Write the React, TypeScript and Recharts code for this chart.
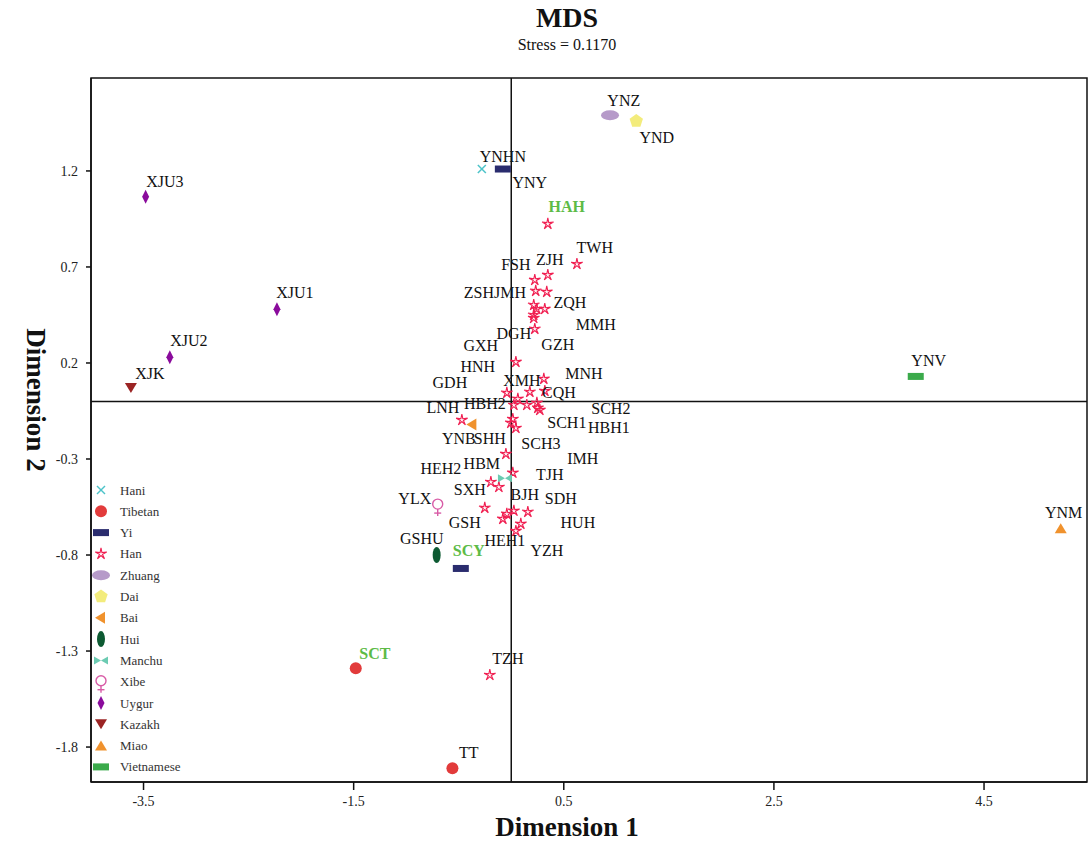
import React from 'react';
import {
  ScatterChart,
  Scatter,
  XAxis,
  YAxis,
  ReferenceLine,
  ReferenceArea,
} from 'recharts';

// values (dimension 1, dimension 2)
const hani = [{ x: -0.28, y: 1.21 }];
const tibetan = [{ x: -1.48, y: -1.39 }, { x: -0.56, y: -1.91 }];
const yi = [{ x: -0.08, y: 1.21 }, { x: -0.48, y: -0.87 }];
const han = [
  { x: 0.348, y: 0.924 }, { x: 0.625, y: 0.715 }, { x: 0.348, y: 0.658 },
  { x: 0.224, y: 0.632 }, { x: 0.233, y: 0.575 }, { x: 0.338, y: 0.57 },
  { x: 0.214, y: 0.502 }, { x: 0.243, y: 0.481 }, { x: 0.319, y: 0.481 },
  { x: 0.214, y: 0.45 }, { x: 0.214, y: 0.434 }, { x: 0.224, y: 0.377 },
  { x: 0.044, y: 0.205 }, { x: 0.31, y: 0.117 }, { x: 0.32, y: 0.054 },
  { x: -0.042, y: 0.044 }, { x: 0.177, y: 0.049 }, { x: 0.063, y: 0.013 },
  { x: 0.025, y: -0.019 }, { x: 0.148, y: -0.019 }, { x: 0.244, y: -0.008 },
  { x: 0.253, y: -0.034 }, { x: 0.272, y: -0.045 }, { x: -0.47, y: -0.097 },
  { x: 0.015, y: -0.092 }, { x: -0.004, y: -0.112 }, { x: 0.044, y: -0.139 },
  { x: -0.051, y: -0.274 }, { x: 0.015, y: -0.372 }, { x: -0.194, y: -0.42 },
  { x: -0.118, y: -0.446 }, { x: -0.252, y: -0.555 }, { x: 0.025, y: -0.57 },
  { x: -0.042, y: -0.586 }, { x: 0.158, y: -0.576 }, { x: -0.08, y: -0.612 },
  { x: 0.091, y: -0.638 }, { x: 0.044, y: -0.675 }, { x: -0.204, y: -1.425 },
];
const zhuang = [{ x: 0.94, y: 1.49 }];
const dai = [{ x: 1.19, y: 1.46 }];
const bai = [{ x: -0.37, y: -0.12 }];
const hui = [{ x: -0.71, y: -0.8 }];
const manchu = [{ x: -0.06, y: -0.4 }];
const xibe = [{ x: -0.7, y: -0.54 }];
const uygur = [{ x: -3.48, y: 1.065 }, { x: -2.23, y: 0.48 }, { x: -3.25, y: 0.23 }];
const kazakh = [{ x: -3.62, y: 0.07 }];
const miao = [{ x: 5.23, y: -0.66 }];
const vietnamese = [{ x: 3.85, y: 0.13 }];

// population labels, placed where they sit in the picture
const labels = [
  { x: -3.296, y: 1.148, name: 'XJU3' }, { x: -2.06, y: 0.565, name: 'XJU1' },
  { x: -3.068, y: 0.315, name: 'XJU2' }, { x: -3.439, y: 0.148, name: 'XJK' },
  { x: -0.08, y: 1.278, name: 'YNHN' }, { x: 0.176, y: 1.138, name: 'YNY' },
  { x: 0.529, y: 1.013, name: 'HAH' }, { x: 1.071, y: 1.565, name: 'YNZ' },
  { x: 1.385, y: 1.377, name: 'YND' }, { x: 0.795, y: 0.804, name: 'TWH' },
  { x: 0.044, y: 0.711, name: 'FSH' }, { x: 0.367, y: 0.737, name: 'ZJH' },
  { x: -0.156, y: 0.57, name: 'ZSHJMH' }, { x: 0.558, y: 0.513, name: 'ZQH' },
  { x: 0.805, y: 0.403, name: 'MMH' }, { x: 0.025, y: 0.356, name: 'DGH' },
  { x: 0.443, y: 0.299, name: 'GZH' }, { x: -0.29, y: 0.289, name: 'GXH' },
  { x: -0.318, y: 0.18, name: 'HNH' }, { x: -0.584, y: 0.101, name: 'GDH' },
  { x: 0.101, y: 0.111, name: 'XMH' }, { x: 0.691, y: 0.148, name: 'MNH' },
  { x: 0.453, y: 0.049, name: 'CQH' }, { x: -0.251, y: -0.008, name: 'HBH2' },
  { x: -0.651, y: -0.029, name: 'LNH' }, { x: 0.948, y: -0.034, name: 'SCH2' },
  { x: 0.529, y: -0.112, name: 'SCH1' }, { x: 0.929, y: -0.133, name: 'HBH1' },
  { x: -0.499, y: -0.191, name: 'YNB' }, { x: -0.204, y: -0.191, name: 'SHH' },
  { x: 0.282, y: -0.217, name: 'SCH3' }, { x: 0.681, y: -0.295, name: 'IMH' },
  { x: -0.28, y: -0.321, name: 'HBM' }, { x: -0.67, y: -0.347, name: 'HEH2' },
  { x: 0.367, y: -0.378, name: 'TJH' }, { x: -0.394, y: -0.456, name: 'SXH' },
  { x: 0.129, y: -0.482, name: 'BJH' }, { x: 0.472, y: -0.503, name: 'SDH' },
  { x: -0.918, y: -0.503, name: 'YLX' }, { x: -0.442, y: -0.628, name: 'GSH' },
  { x: 0.634, y: -0.628, name: 'HUH' }, { x: -0.852, y: -0.716, name: 'GSHU' },
  { x: -0.404, y: -0.774, name: 'SCY' }, { x: -0.061, y: -0.722, name: 'HEH1' },
  { x: 0.339, y: -0.774, name: 'YZH' }, { x: -1.298, y: -1.31, name: 'SCT' },
  { x: -0.032, y: -1.336, name: 'TZH' }, { x: -0.404, y: -1.826, name: 'TT' },
  { x: 3.973, y: 0.216, name: 'YNV' }, { x: 5.258, y: -0.576, name: 'YNM' },
];
const highlighted = ['HAH', 'SCY', 'SCT'];

const xTicks = [-3.5, -1.5, 0.5, 2.5, 4.5];
const yTicks = [-1.8, -1.3, -0.8, -0.3, 0.2, 0.7, 1.2];
const xDomain = [-4.0, 5.48];
const yDomain = [-1.982, 1.684];

const FONT = '"Liberation Serif", "Times New Roman", serif';

const groups = [
  { name: 'Hani', data: hani, kind: 'cross', color: '#4DC3C9' },
  { name: 'Tibetan', data: tibetan, kind: 'circle', color: '#E23B3B' },
  { name: 'Yi', data: yi, kind: 'rect', color: '#2A2C6E' },
  { name: 'Han', data: han, kind: 'star', color: '#F01E50' },
  { name: 'Zhuang', data: zhuang, kind: 'ellipse', color: '#B69AC9' },
  { name: 'Dai', data: dai, kind: 'pentagon', color: '#F3EC7C' },
  { name: 'Bai', data: bai, kind: 'left', color: '#F0922D' },
  { name: 'Hui', data: hui, kind: 'vellipse', color: '#0D5A32' },
  { name: 'Manchu', data: manchu, kind: 'bowtie', color: '#6CCBB2' },
  { name: 'Xibe', data: xibe, kind: 'female', color: '#D85BA6' },
  { name: 'Uygur', data: uygur, kind: 'diamond', color: '#8A0B9C' },
  { name: 'Kazakh', data: kazakh, kind: 'down', color: '#9B2424' },
  { name: 'Miao', data: miao, kind: 'up', color: '#F0922D' },
  { name: 'Vietnamese', data: vietnamese, kind: 'rect', color: '#3BAA4B' },
];

function starPath(cx: number, cy: number, ro: number, ri: number) {
  let d = '';
  for (let i = 0; i < 10; i++) {
    const r = i % 2 === 0 ? ro : ri;
    const a = -Math.PI / 2 + (i * Math.PI) / 5;
    d += (i === 0 ? 'M' : 'L') + (cx + r * Math.cos(a)).toFixed(2) + ',' + (cy + r * Math.sin(a)).toFixed(2);
  }
  return d + 'Z';
}

function Marker({ kind, color, cx, cy }: { kind: string; color: string; cx: number; cy: number }) {
  switch (kind) {
    case 'cross':
      return (
        <g stroke={color} strokeWidth={1.5}>
          <line x1={cx - 4} y1={cy - 4} x2={cx + 4} y2={cy + 4} />
          <line x1={cx - 4} y1={cy + 4} x2={cx + 4} y2={cy - 4} />
        </g>
      );
    case 'circle':
      return <circle cx={cx} cy={cy} r={6} fill={color} />;
    case 'rect':
      return <rect x={cx - 8} y={cy - 3.5} width={16} height={7} fill={color} />;
    case 'star':
      return <path d={starPath(cx, cy, 6, 1.6)} fill="none" stroke={color} strokeWidth={1.1} />;
    case 'ellipse':
      return <ellipse cx={cx} cy={cy} rx={9} ry={5} fill={color} />;
    case 'pentagon': {
      const pts = [0, 1, 2, 3, 4]
        .map((i) => {
          const a = -Math.PI / 2 + (i * 2 * Math.PI) / 5;
          return `${cx + 7 * Math.cos(a)},${cy + 7 * Math.sin(a)}`;
        })
        .join(' ');
      return <polygon points={pts} fill={color} />;
    }
    case 'left':
      return <polygon points={`${cx - 6},${cy} ${cx + 4},${cy - 6} ${cx + 4},${cy + 6}`} fill={color} />;
    case 'vellipse':
      return <ellipse cx={cx} cy={cy} rx={4} ry={8} fill={color} />;
    case 'bowtie':
      return (
        <g fill={color}>
          <polygon points={`${cx - 7},${cy - 4} ${cx},${cy} ${cx - 7},${cy + 4}`} />
          <polygon points={`${cx + 7},${cy - 4} ${cx},${cy} ${cx + 7},${cy + 4}`} />
        </g>
      );
    case 'female':
      return (
        <g stroke={color} strokeWidth={1.4} fill="none">
          <circle cx={cx} cy={cy - 1} r={5} />
          <line x1={cx} y1={cy + 4} x2={cx} y2={cy + 11} />
          <line x1={cx - 3.5} y1={cy + 8} x2={cx + 3.5} y2={cy + 8} />
        </g>
      );
    case 'diamond':
      return <polygon points={`${cx},${cy - 7} ${cx + 3.5},${cy} ${cx},${cy + 7} ${cx - 3.5},${cy}`} fill={color} />;
    case 'down':
      return <polygon points={`${cx - 6},${cy - 5} ${cx + 6},${cy - 5} ${cx},${cy + 5}`} fill={color} />;
    case 'up':
      return <polygon points={`${cx - 6},${cy + 5} ${cx + 6},${cy + 5} ${cx},${cy - 5}`} fill={color} />;
    default:
      return null;
  }
}

const LegendBox = () => (
  <svg width={110} height={300} style={{ display: 'block' }}>
    {groups.map((g, i) => {
      const y = 12 + i * 21.3;
      return (
        <g key={g.name}>
          <Marker kind={g.kind} color={g.color} cx={11} cy={y} />
          <text x={30} y={y} dy="0.35em" fontSize={13} fontFamily={FONT} fill="#333">
            {g.name}
          </text>
        </g>
      );
    })}
  </svg>
);

export default function App() {
  return (
    <div style={{ position: 'relative', width: 1089, height: 847, background: '#fff', fontFamily: FONT }}>
      <style>{'body{margin:0}'}</style>
      <div style={{ position: 'absolute', left: 0, width: 1134, top: 2, textAlign: 'center', fontSize: 28, fontWeight: 'bold', color: '#111' }}>
        MDS
      </div>
      <div style={{ position: 'absolute', left: 0, width: 1134, top: 36, textAlign: 'center', fontSize: 16, color: '#111' }}>
        Stress = 0.1170
      </div>
      <ScatterChart width={1089} height={847} margin={{ top: 78, right: 2, bottom: 25, left: 31 }}>
        <XAxis
          type="number"
          dataKey="x"
          domain={xDomain}
          ticks={xTicks}
          allowDataOverflow
          tickSize={8}
          tickMargin={6}
          height={40}
          stroke="#111"
          strokeWidth={1.5}
          tick={{ fontSize: 14, fill: '#222', fontFamily: FONT }}
          tickFormatter={(v) => String(v)}
        />
        <YAxis
          type="number"
          dataKey="y"
          domain={yDomain}
          ticks={yTicks}
          allowDataOverflow
          tickSize={5}
          tickMargin={8}
          width={60}
          stroke="#111"
          strokeWidth={1.5}
          tick={{ fontSize: 14, fill: '#222', fontFamily: FONT }}
          tickFormatter={(v) => String(v)}
        />
        <ReferenceArea
          x1={xDomain[0]}
          x2={xDomain[1]}
          y1={yDomain[0]}
          y2={yDomain[1]}
          fill="none"
          fillOpacity={0}
          stroke="#111"
          strokeWidth={1.5}
        />
        <ReferenceLine x={0} stroke="#111" strokeWidth={1.5} />
        <ReferenceLine y={0} stroke="#111" strokeWidth={1.5} />
        {groups.map((g) => (
          <Scatter
            key={g.name}
            name={g.name}
            data={g.data}
            isAnimationActive={false}
            shape={(p: any) => <Marker kind={g.kind} color={g.color} cx={p.cx} cy={p.cy} />}
          />
        ))}
        <Scatter
          name="labels"
          data={labels}
          isAnimationActive={false}
          legendType="none"
          shape={(p: any) => {
            const hl = highlighted.includes(p.payload.name);
            return (
              <text
                x={p.cx}
                y={p.cy}
                dy="0.35em"
                textAnchor="middle"
                fontSize={16}
                fontFamily={FONT}
                fontWeight={hl ? 'bold' : 'normal'}
                fill={hl ? '#5DBB46' : '#111'}
              >
                {p.payload.name}
              </text>
            );
          }}
        />
      </ScatterChart>
      <div style={{ position: 'absolute', left: 90, top: 478 }}>
        <LegendBox />
      </div>
      <div style={{ position: 'absolute', left: 0, width: 1134, top: 812, textAlign: 'center', fontSize: 27, fontWeight: 'bold', color: '#111' }}>
        Dimension 1
      </div>
      <div
        style={{
          position: 'absolute',
          left: 35,
          top: 400,
          transform: 'translate(-50%, -50%) rotate(90deg)',
          whiteSpace: 'nowrap',
          fontSize: 27,
          fontWeight: 'bold',
          color: '#111',
        }}
      >
        Dimension 2
      </div>
    </div>
  );
}
